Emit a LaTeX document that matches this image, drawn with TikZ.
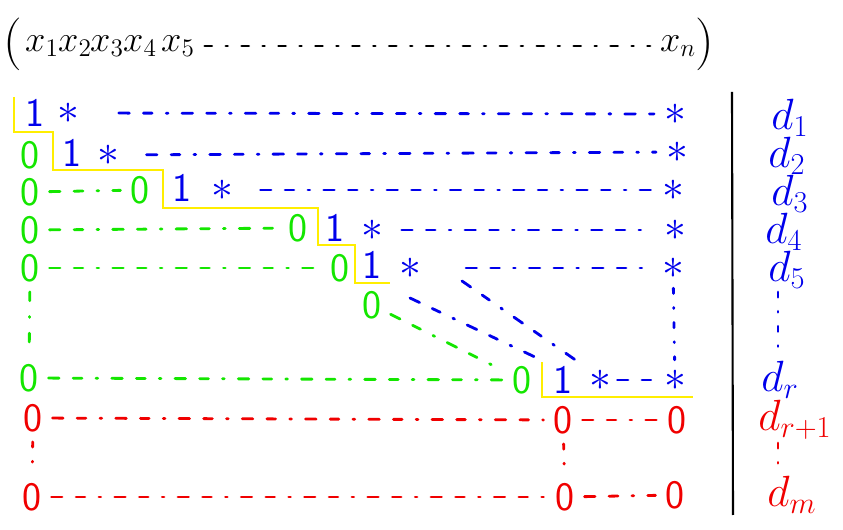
\documentclass[tikz,border=0pt]{standalone}
\usepackage{fontspec}
\definecolor{penblue}{RGB}{0,0,235}
\definecolor{pengreen}{RGB}{20,230,0}
\definecolor{penred}{RGB}{240,0,0}
\definecolor{penyellow}{RGB}{255,238,0}
\begin{document}
\begin{tikzpicture}[x=0.02cm, y=-0.02cm,
  ent/.style={inner sep=0.5pt, font=\sffamily\fontsize{23}{24}\selectfont},
  one/.style={ent, text=penblue},
  star/.style={ent, text=penblue},
  zero/.style={ent, text=pengreen},
  rzero/.style={ent, text=penred},
  hdr/.style={inner sep=0.5pt, font=\fontsize{20}{21}\selectfont},
  par/.style={inner sep=0.5pt, font=\fontsize{30}{30}\selectfont},
  lab/.style={inner sep=0pt, font=\fontsize{24}{26}\selectfont},
  pen/.style={line width=1.6pt, line cap=round, shorten <=5pt, shorten >=5pt},
  hand/.style={pen, dash pattern=on 6pt off 8pt on 5pt off 8pt on 1pt off 8pt},
  bdash/.style={hand, penblue},
  gdash/.style={hand, pengreen},
  rdash/.style={hand, penred},
  kdash/.style={pen, black, dash pattern=on 4pt off 8pt on 1pt off 8pt},
  bdots/.style={pen, penblue, dash pattern=on 3pt off 8pt on 0.5pt off 8pt},
  gdots/.style={pen, pengreen, dash pattern=on 5pt off 9pt on 0.5pt off 9pt},
  rdots/.style={pen, penred, dash pattern=on 3pt off 8pt on 0.5pt off 8pt},
  stair/.style={line width=1.6pt, penyellow}]
\useasboundingbox (0,0) rectangle (843,530);

% variables
\node[par] (lpar) at (13,44) {(};
\node[hdr] (x1) at (42,46) {$x_1$};
\node[hdr] (x2) at (75,46) {$x_2$};
\node[hdr] (x3) at (107,46) {$x_3$};
\node[hdr] (x4) at (140,46) {$x_4$};
\node[hdr] (x5) at (178,46) {$x_5$};
\node[hdr] (xn) at (678,46) {$x_n$};
\node[par] (rpar) at (705,44) {)};
\draw[kdash] (x5) -- (xn);

% pivot rows
\node[one] (p1) at (35,113) {1};
\node[star] (s1) at (68,113) {$\ast$};
\node[star] (e1) at (675,114) {$\ast$};
\draw[bdash, shorten <=22pt] (s1) -- (e1);

\node[zero] (z21) at (30,155) {0};
\node[one] (p2) at (72,153) {1};
\node[star] (s2) at (108,155) {$\ast$};
\node[star] (e2) at (677,152) {$\ast$};
\draw[bdash, shorten <=15pt] (s2) -- (e2);

\node[zero] (z31) at (30,192) {0};
\node[zero] (z33) at (140,190) {0};
\node[one] (p3) at (182,188) {1};
\node[star] (s3) at (222,190) {$\ast$};
\node[star] (e3) at (673,190) {$\ast$};
\draw[gdash] (z31) -- (z33);
\draw[bdash, shorten <=15pt] (s3) -- (e3);

\node[zero] (z41) at (30,230) {0};
\node[zero] (z44) at (298,228) {0};
\node[one] (p4) at (335,228) {1};
\node[star] (s4) at (372,230) {$\ast$};
\node[star] (e4) at (675,230) {$\ast$};
\draw[gdash] (z41) -- (z44);
\draw[bdash, shorten <=10pt] (s4) -- (e4);

\node[zero] (z51) at (30,268) {0};
\node[zero] (z55) at (340,268) {0};
\node[one] (p5) at (372,265) {1};
\node[star] (s5) at (410,268) {$\ast$};
\node[star] (e5) at (673,268) {$\ast$};
\draw[gdash] (z51) -- (z55);
\draw[bdash, shorten <=25pt] (s5) -- (e5);

\node[zero] (z6) at (372,305) {0};

\node[zero] (zr1) at (29,378) {0};
\node[zero] (zrr) at (522,380) {0};
\node[one] (pr) at (563,380) {1};
\node[star] (sr) at (600,380) {$\ast$};
\node[star] (er) at (675,380) {$\ast$};
\draw[gdash] (zr1) -- (zrr);
\draw[bdash, shorten <=3pt, shorten >=3pt] (sr) -- (er);

% gap between row 5 and row r
\coordinate (a0) at (410,298);
\coordinate (b0) at (462,281);
\draw[bdash, shorten <=0pt] (a0) -- (pr.north west);
\draw[bdash, shorten <=0pt] (b0) -- (sr.north west);
\draw[gdash] (z6) -- (zrr);
\draw[gdots] (z51) -- (zr1);
\draw[bdots] (e5) -- (er);

% zero rows
\node[rzero] (q1) at (33,418) {0};
\node[rzero] (qp) at (563,420) {0};
\node[rzero] (qe) at (677,420) {0};
\node[rzero] (m1) at (32,497) {0};
\node[rzero] (mp) at (565,497) {0};
\node[rzero] (me) at (675,495) {0};
\draw[rdash] (q1) -- (qp);
\draw[rdash] (qp) -- (qe);
\draw[rdash] (m1) -- (mp);
\draw[rdash] (mp) -- (me);
\draw[rdots] (q1) -- (m1);
\draw[rdots] (qp) -- (mp);

% staircase
\draw[stair] (14,97) |- (53,132) |- (163,170) |- (318,208) |- (355,245) |- (390,283);
\draw[stair] (542,362) |- (693,397);

% row names
\draw[line width=1.2pt] (732,92) -- (733,515);
\node[lab, text=penblue] (d1) at (790,118) {$d_1$};
\node[lab, text=penblue] (d2) at (787,156) {$d_2$};
\node[lab, text=penblue] (d3) at (790,194) {$d_3$};
\node[lab, text=penblue] (d4) at (784,232) {$d_4$};
\node[lab, text=penblue] (d5) at (787,270) {$d_5$};
\node[lab, text=penblue] (dr) at (780,380) {$d_r$};
\node[lab, text=penred] (dr1) at (795,420) {$d_{r+1}$};
\node[lab, text=penred] (dm) at (792,495) {$d_m$};
\coordinate (u1) at (778,292);
\coordinate (u2) at (778,350);
\coordinate (v1) at (778,443);
\coordinate (v2) at (778,475);
\draw[bdots, shorten <=0pt, shorten >=0pt] (u1) -- (u2);
\draw[rdots, shorten <=0pt, shorten >=0pt] (v1) -- (v2);
\end{tikzpicture}
\end{document}
